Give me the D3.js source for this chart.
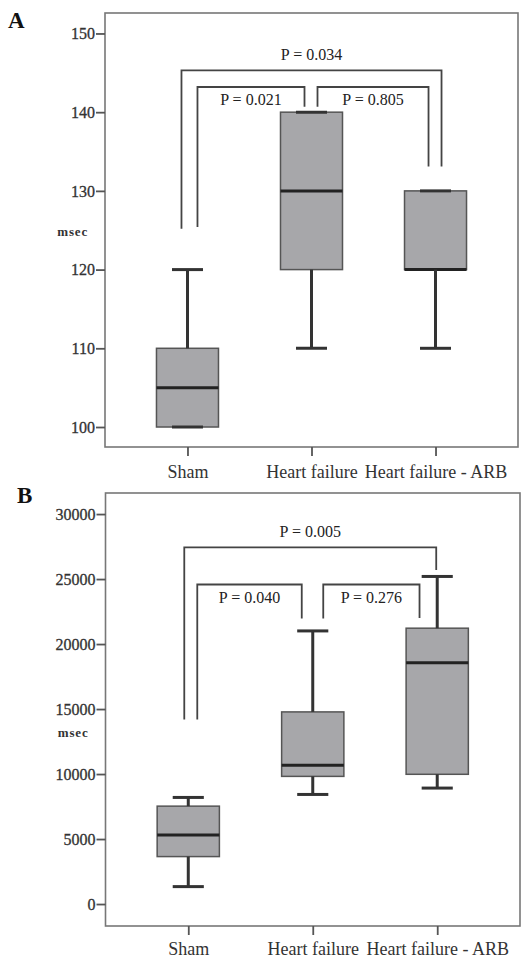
<!DOCTYPE html>
<html>
<head>
<meta charset="utf-8">
<script src="https://cdn.jsdelivr.net/npm/d3@7"></script>
<style>
  body { margin: 0; background: #fff; }
  text { font-family: "Liberation Serif", "Times New Roman", serif; }
</style>
</head>
<body>
<svg id="chart"></svg>
<script>
const groups = ["Sham", "Heart failure", "Heart failure - ARB"];

// panel A (msec)
const aMin = [100, 110, 110];
const aQ1 = [100, 120, 120];
const aMed = [105, 130, 120];
const aQ3 = [110, 140, 130];
const aMax = [120, 140, 130];
const aTicks = [100, 110, 120, 130, 140, 150];
const aPairs = [[0, 1], [1, 2], [0, 2]];
const aPLabels = ["P = 0.021", "P = 0.805", "P = 0.034"];
const aBarTop = [143.2, 143.2, 145.3];
const aFeet = [[125.4, 140.7], [140.7, 133.1], [125.2, 133.1]];

// panel B (msec)
const bMin = [1340, 8430, 8920];
const bQ1 = [3650, 9820, 9980];
const bMed = [5320, 10670, 18570];
const bQ3 = [7530, 14780, 21220];
const bMax = [8200, 21010, 25200];
const bTicks = [0, 5000, 10000, 15000, 20000, 25000, 30000];
const bPairs = [[0, 1], [1, 2], [0, 2]];
const bPLabels = ["P = 0.040", "P = 0.276", "P = 0.005"];
const bBarTop = [24580, 24580, 27440];
const bFeet = [[14190, 21960], [21960, 22000], [14190, 25690]];

const svg = d3.select("#chart").attr("width", 528).attr("height", 959);

const makePanel = (cfg) => {
  const g = svg.append("g").attr("transform", `translate(${cfg.left},${cfg.top})`);
  const iw = cfg.w, ih = cfg.h;

  const x = d3.scalePoint().domain(groups).range([0, iw]).padding(0.665);
  const step = x.step();
  const y = d3.scaleLinear().domain(cfg.domain).range([ih, 0]);

  // frame
  g.append("rect")
    .attr("width", iw).attr("height", ih)
    .attr("fill", "none").attr("stroke", "#777").attr("stroke-width", 1.6);

  const ya = g.append("g")
    .call(d3.axisLeft(y).tickValues(cfg.ticks).tickSize(9).tickPadding(1).tickFormat(d3.format("d")));
  ya.select(".domain").remove();
  ya.selectAll("line").attr("stroke", "#555").attr("stroke-width", 1.8);
  ya.selectAll("text").attr("font-size", 16).attr("fill", "#333")
    .attr("font-family", "Liberation Serif").attr("stroke", "#333").attr("stroke-width", 0.3);

  const xa = g.append("g").attr("transform", `translate(0,${ih})`)
    .call(d3.axisBottom(x).tickSize(9).tickPadding(cfg.xPad));
  xa.select(".domain").remove();
  xa.selectAll("line").attr("stroke", "#555").attr("stroke-width", 1.8);
  xa.selectAll("text").attr("font-size", 18).attr("fill", "#333").attr("font-family", "Liberation Serif");

  // boxes
  const bw = step * 0.5, cw = step * 0.25;
  groups.forEach((k, i) => {
    const cx = x(k);
    g.append("rect")
      .attr("x", cx - bw / 2).attr("y", y(cfg.q3[i]))
      .attr("width", bw).attr("height", y(cfg.q1[i]) - y(cfg.q3[i]))
      .attr("fill", "#a7a7aa").attr("stroke", "#555").attr("stroke-width", 1.5);
    g.append("line")
      .attr("x1", cx - bw / 2).attr("x2", cx + bw / 2)
      .attr("y1", y(cfg.med[i])).attr("y2", y(cfg.med[i]))
      .attr("stroke", "#222").attr("stroke-width", 3);
    [[cfg.q3[i], cfg.max[i]], [cfg.q1[i], cfg.min[i]]].forEach(([a, b]) => {
      g.append("line")
        .attr("x1", cx).attr("x2", cx).attr("y1", y(a)).attr("y2", y(b))
        .attr("stroke", "#333").attr("stroke-width", 3);
      g.append("line")
        .attr("x1", cx - cw / 2).attr("x2", cx + cw / 2).attr("y1", y(b)).attr("y2", y(b))
        .attr("stroke", "#333").attr("stroke-width", 3);
    });
  });

  // significance brackets
  cfg.pairs.forEach(([a, b], i) => {
    const x1 = x(groups[a]) + cfg.offs[i][0];
    const x2 = x(groups[b]) + cfg.offs[i][1];
    const yt = y(cfg.barTop[i]);
    g.append("path")
      .attr("d", `M${x1},${y(cfg.feet[i][0])}V${yt}H${x2}V${y(cfg.feet[i][1])}`)
      .attr("fill", "none").attr("stroke", "#444").attr("stroke-width", 1.8);
    const outer = i === 2;
    g.append("text")
      .attr("x", (x1 + x2) / 2)
      .attr("y", outer ? yt - 10.5 : yt + 18)
      .attr("text-anchor", "middle")
      .attr("font-size", 16).attr("fill", "#222")
      .text(cfg.pLabels[i]);
  });

  // axis title
  g.append("text")
    .attr("x", -17).attr("y", cfg.unitY)
    .attr("text-anchor", "end")
    .attr("font-size", 13).attr("font-weight", "bold").attr("letter-spacing", 0.8)
    .attr("fill", "#333")
    .text("msec");

  svg.append("text")
    .attr("x", cfg.letterX).attr("y", cfg.letterY)
    .attr("font-size", 23).attr("font-weight", "bold").attr("fill", "#111")
    .text(cfg.letter);
};

makePanel({
  left: 105, top: 13, w: 413, h: 434,
  domain: [97.46, 152.6], ticks: aTicks,
  min: aMin, q1: aQ1, med: aMed, q3: aQ3, max: aMax,
  pairs: aPairs, pLabels: aPLabels, barTop: aBarTop, feet: aFeet,
  offs: [[10, -7], [6, -7], [-6, 6]],
  unitY: 223, xPad: 9, letter: "A", letterX: 8, letterY: 28
});

makePanel({
  left: 105.5, top: 493, w: 414.5, h: 433,
  domain: [-1690, 31620], ticks: bTicks,
  min: bMin, q1: bQ1, med: bMed, q3: bQ3, max: bMax,
  pairs: bPairs, pLabels: bPLabels, barTop: bBarTop, feet: bFeet,
  offs: [[9, -11], [10.5, -17.7], [-4, -1]],
  unitY: 244, xPad: 7, letter: "B", letterX: 17, letterY: 503
});
</script>
</body>
</html>
